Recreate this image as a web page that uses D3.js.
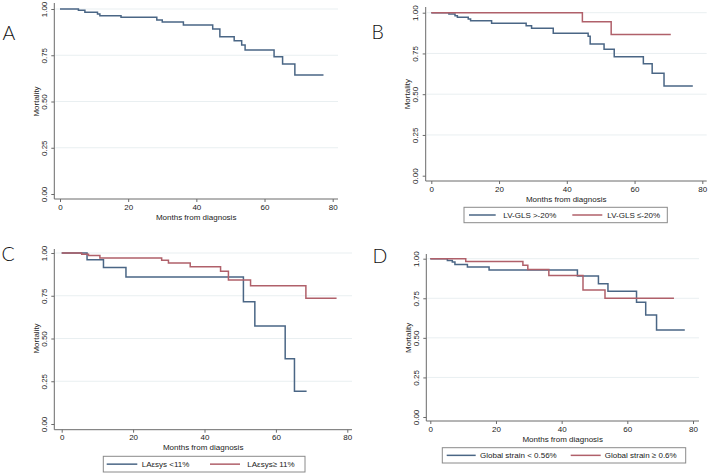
<!DOCTYPE html>
<html>
<head>
<meta charset="utf-8">
<script src="https://cdn.jsdelivr.net/npm/d3@7"></script>
<style>
  html, body { margin: 0; padding: 0; background: #ffffff; }
  svg { display: block; }
  text { font-family: "Liberation Sans", Arial, sans-serif; }
</style>
</head>
<body>
<svg id="chart" width="709" height="475"></svg>
<script>
// ---------- data ----------
const xTicks = [0, 20, 40, 60, 80];
const yTicks = [0, 0.25, 0.5, 0.75, 1];
const xTitle = "Months from diagnosis";
const yTitle = "Mortality";
const panelLetters = ["A", "B", "C", "D"];

// Panel A: overall
const aTimes = [0, 5.4, 7.3, 11, 11.7, 17.9, 28.4, 30, 36.2, 44.8, 46.9, 51.1, 53.3, 54.3, 62.8, 65.3, 68.9, 77.3];
const aSurv  = [1, 0.993, 0.982, 0.973, 0.964, 0.955, 0.941, 0.930, 0.914, 0.892, 0.850, 0.829, 0.805, 0.778, 0.742, 0.703, 0.643, 0.643];

// Panel B: LV-GLS
const bLabels = ["LV-GLS >-20%", "LV-GLS \u2264-20%"];
const bBlueTimes = [0, 5.2, 7, 7.7, 10.9, 11.6, 17.8, 28, 29.6, 36, 46.3, 46.9, 51, 54, 62.6, 65.2, 68.7, 77.2];
const bBlueSurv  = [1, 0.992, 0.982, 0.972, 0.961, 0.951, 0.935, 0.920, 0.904, 0.874, 0.855, 0.808, 0.776, 0.730, 0.687, 0.628, 0.550, 0.550];
const bRedTimes = [0, 44.6, 53.1, 70.7];
const bRedSurv  = [1, 0.945, 0.867, 0.867];

// Panel C: LAεsys
const cLabels = ["LA\u03B5sys <11%", "LA\u03B5sys\u2265 11%"];
const cBlueTimes = [0, 7.1, 11.7, 18, 50.9, 54.1, 62.6, 65.2, 68.6];
const cBlueSurv  = [1, 0.961, 0.915, 0.859, 0.715, 0.573, 0.382, 0.192, 0.192];
const cRedTimes = [0, 5.6, 7.5, 10.7, 28, 29.9, 36, 44.5, 46.7, 52.9, 68.4, 77];
const cRedSurv  = [1, 0.993, 0.985, 0.971, 0.957, 0.942, 0.919, 0.894, 0.842, 0.808, 0.735, 0.735];

// Panel D: Global strain
const dLabels = ["Global strain < 0.56%", "Global strain \u2265 0.6%"];
const dBlueTimes = [0, 5.2, 6.7, 7.5, 11.3, 17.9, 44.8, 51.2, 54.1, 62.8, 65.6, 68.9, 77.5];
const dBlueSurv  = [1, 0.989, 0.979, 0.964, 0.947, 0.928, 0.890, 0.841, 0.794, 0.725, 0.644, 0.549, 0.549];
const dRedTimes = [0, 10.8, 28.2, 29.7, 36.1, 46.5, 53.2, 74.2];
const dRedSurv  = [1, 0.983, 0.958, 0.932, 0.894, 0.803, 0.750, 0.750];

// ---------- styles / layout ----------
const BLUE = "#4a6685";
const RED = "#b0606a";
const AXIS = "#6a6a6a";
const GRID = "#e9eff1";
const TEXT = "#222222";

const zip = (t, s) => t.map((v, i) => ({ t: v, s: s[i] }));

const panels = [
  { letter: panelLetters[0], lx: 2.5, ly: 39.5,
    left: 54.3, right: 338, top: 3, axisY: 199, x0: 60, x80: 332.7, y1: 9, y0: 194,
    series: [{ data: zip(aTimes, aSurv), color: BLUE }], legend: null },
  { letter: panelLetters[1], lx: 371.5, ly: 38.5,
    left: 425.7, right: 706.7, top: 7, axisY: 181, x0: 431.3, x80: 702.3, y1: 12.7, y0: 175.7,
    series: [{ data: zip(bBlueTimes, bBlueSurv), color: BLUE }, { data: zip(bRedTimes, bRedSurv), color: RED }],
    legend: { x: 464, y: 207.3, w: 203.3, h: 15.4, labels: bLabels,
      items: [{ l1: 469, l2: 495.7, tx: 503.3 }, { l1: 572.3, l2: 602.3, tx: 607.3 }] } },
  { letter: panelLetters[2], lx: 1.5, ly: 260.5,
    left: 54.3, right: 352, top: 249, axisY: 429.7, x0: 61.7, x80: 347.3, y1: 253, y0: 424,
    series: [{ data: zip(cBlueTimes, cBlueSurv), color: BLUE }, { data: zip(cRedTimes, cRedSurv), color: RED }],
    legend: { x: 103.3, y: 456.3, w: 201.7, h: 15.7, labels: cLabels,
      items: [{ l1: 106.7, l2: 137.3, tx: 141.7 }, { l1: 210, l2: 240, tx: 247.3 }] } },
  { letter: panelLetters[3], lx: 372.5, ly: 262.5,
    left: 426.3, right: 699, top: 254, axisY: 421, x0: 430.3, x80: 693, y1: 258.7, y0: 417,
    series: [{ data: zip(dBlueTimes, dBlueSurv), color: BLUE }, { data: zip(dRedTimes, dRedSurv), color: RED }],
    legend: { x: 442.3, y: 447.7, w: 243.4, h: 15.3, labels: dLabels,
      items: [{ l1: 446.7, l2: 475.7, tx: 480 }, { l1: 570.7, l2: 600.7, tx: 604.7 }] } }
];

const svg = d3.select("#chart");

panels.forEach(p => {
  const g = svg.append("g");
  const x = d3.scaleLinear().domain([0, 80]).range([p.x0, p.x80]);
  const y = d3.scaleLinear().domain([0, 1]).range([p.y0, p.y1]);

  // gridlines
  g.append("g").selectAll("line")
    .data(yTicks.filter(v => v > 0))
    .join("line")
    .attr("x1", p.left + 1).attr("x2", p.right)
    .attr("y1", d => y(d)).attr("y2", d => y(d))
    .attr("stroke", GRID).attr("stroke-width", 1);

  // x axis
  const xa = g.append("g").attr("transform", `translate(0,${p.axisY})`)
    .call(d3.axisBottom(x).tickValues(xTicks).tickSize(3).tickPadding(2).tickSizeOuter(0));
  xa.select(".domain").remove();
  xa.selectAll("line").attr("stroke", AXIS);
  xa.selectAll("text").attr("fill", TEXT).style("font-size", "8px")
    .style("font-family", "'Liberation Sans', Arial, sans-serif");
  g.append("line").attr("x1", p.left).attr("x2", p.right)
    .attr("y1", p.axisY).attr("y2", p.axisY).attr("stroke", AXIS).attr("stroke-width", 1);

  // y axis
  const ya = g.append("g").attr("transform", `translate(${p.left},0)`)
    .call(d3.axisLeft(y).tickValues(yTicks).tickFormat(d3.format(".2f")).tickSize(3).tickSizeOuter(0));
  ya.select(".domain").remove();
  ya.selectAll("line").attr("stroke", AXIS);
  ya.selectAll("text")
    .attr("x", 0).attr("y", -7.3).attr("dy", 0)
    .attr("text-anchor", "middle")
    .attr("transform", "rotate(-90)")
    .attr("fill", TEXT).style("font-size", "8px")
    .style("font-family", "'Liberation Sans', Arial, sans-serif");
  g.append("line").attr("x1", p.left).attr("x2", p.left)
    .attr("y1", p.top).attr("y2", p.axisY).attr("stroke", AXIS).attr("stroke-width", 1);

  // axis titles
  g.append("text")
    .attr("x", (p.left + p.right) / 2).attr("y", p.axisY + 20.5)
    .attr("text-anchor", "middle").attr("fill", TEXT).style("font-size", "8px")
    .text(xTitle);
  g.append("text")
    .attr("transform", `translate(${p.left - 15.6},${(p.y0 + p.y1) / 2}) rotate(-90)`)
    .attr("text-anchor", "middle").attr("fill", TEXT).style("font-size", "8px")
    .text(yTitle);

  // curves
  const line = d3.line().x(d => x(d.t)).y(d => y(d.s)).curve(d3.curveStepAfter);
  p.series.forEach(s => {
    g.append("path").datum(s.data)
      .attr("d", line)
      .attr("fill", "none").attr("stroke", s.color).attr("stroke-width", 1.5);
  });

  // legend
  if (p.legend) {
    const L = p.legend;
    const lg = g.append("g");
    lg.append("rect").attr("x", L.x).attr("y", L.y).attr("width", L.w).attr("height", L.h)
      .attr("fill", "#ffffff").attr("stroke", "#8a8a8a").attr("stroke-width", 1);
    const cy = L.y + L.h / 2;
    L.items.forEach((it, i) => {
      lg.append("line").attr("x1", it.l1).attr("x2", it.l2).attr("y1", cy).attr("y2", cy)
        .attr("stroke", i === 0 ? BLUE : RED).attr("stroke-width", 1.5);
      lg.append("text").attr("x", it.tx).attr("y", cy + 3).attr("fill", TEXT)
        .style("font-size", "8px").text(L.labels[i]);
    });
  }

  // panel letter
  svg.append("text").attr("x", p.lx).attr("y", p.ly)
    .attr("fill", "#111")
    .style("font-family", "Lato, 'Open Sans', 'Liberation Sans', sans-serif")
    .style("font-weight", 300)
    .style("font-size", "19.5px")
    .text(p.letter);
});
</script>
</body>
</html>
